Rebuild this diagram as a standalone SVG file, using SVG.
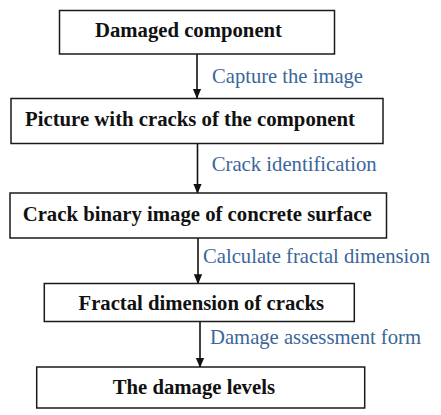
<svg xmlns="http://www.w3.org/2000/svg" width="441" height="415" viewBox="0 0 441 415">
<style>
.box{fill:#fff;stroke:#1a1a1a;stroke-width:1.5}
.nt{font-family:'Liberation Serif','Times New Roman',serif;font-weight:bold;font-size:20.7px;fill:#111}
.lb{font-family:'Liberation Serif','Times New Roman',serif;font-size:20.7px;fill:#3a6699}
.ln{stroke:#111;stroke-width:1.6;fill:none}
</style>
<defs>
<marker id="ad" markerWidth="10" markerHeight="12" refX="11" refY="5" orient="auto" markerUnits="userSpaceOnUse" viewBox="0 0 12 10">
<path d="M0,0 L12,5 L0,10 Z" fill="#111"/>
</marker>
</defs>
<rect width="441" height="415" fill="#fff"/>
<g id="connectors">
<line class="ln" x1="197" y1="54" x2="197" y2="98" marker-end="url(#ad)"/>
<line class="ln" x1="197.5" y1="143.5" x2="197.5" y2="193" marker-end="url(#ad)"/>
<line class="ln" x1="198" y1="238" x2="198" y2="283.5" marker-end="url(#ad)"/>
<line class="ln" x1="200" y1="321.5" x2="200" y2="367" marker-end="url(#ad)"/>
<text class="lb" x="212" y="83" textLength="151" lengthAdjust="spacingAndGlyphs">Capture the image</text>
<text class="lb" x="211.7" y="171" textLength="165" lengthAdjust="spacingAndGlyphs">Crack identification</text>
<text class="lb" x="203" y="263" textLength="227" lengthAdjust="spacingAndGlyphs">Calculate fractal dimension</text>
<text class="lb" x="210" y="344" textLength="211" lengthAdjust="spacingAndGlyphs">Damage assessment form</text>
</g>
<g id="n1">
<rect class="box" x="59.5" y="10.5" width="275" height="43.5"/>
<text class="nt" x="95" y="37" textLength="187" lengthAdjust="spacingAndGlyphs">Damaged component</text>
</g>
<g id="n2">
<rect class="box" x="11" y="98.5" width="372" height="45"/>
<text class="nt" x="25" y="126" textLength="330" lengthAdjust="spacingAndGlyphs">Picture with cracks of the component</text>
</g>
<g id="n3">
<rect class="box" x="10" y="193" width="376.5" height="45"/>
<text class="nt" x="22.7" y="220.5" textLength="349" lengthAdjust="spacingAndGlyphs">Crack binary image of concrete surface</text>
</g>
<g id="n4">
<rect class="box" x="44.3" y="283.5" width="310" height="38"/>
<text class="nt" x="78.5" y="310" textLength="245.5" lengthAdjust="spacingAndGlyphs">Fractal dimension of cracks</text>
</g>
<g id="n5">
<rect class="box" x="36.7" y="367" width="328" height="41"/>
<text class="nt" x="112.7" y="394.3" textLength="162.3" lengthAdjust="spacingAndGlyphs">The damage levels</text>
</g>
</svg>
